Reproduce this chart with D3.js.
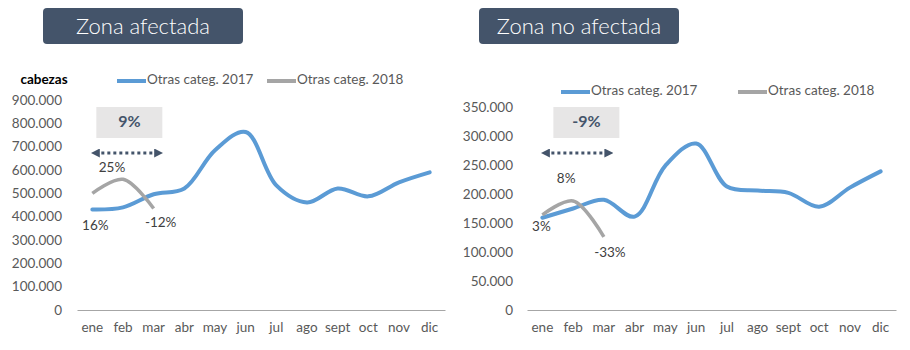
<!DOCTYPE html>
<html>
<head>
<meta charset="utf-8">
<script src="https://cdn.jsdelivr.net/npm/d3@7"></script>
<style>
body { margin: 0; background: #fff; }
text { font-family: Lato, "Open Sans", sans-serif; }
</style>
</head>
<body>
<script>
const w = 910
const h = 350

const months = ['ene', 'feb', 'mar', 'abr', 'may', 'jun', 'jul', 'ago', 'sept', 'oct', 'nov', 'dic']
const seriesNames = ['Otras categ. 2017', 'Otras categ. 2018']

// Zona afectada
const afect2017 = [431000, 440000, 496000, 521000, 685000, 763000, 534000, 461000, 521000, 487000, 547000, 590000]
const afect2018 = [500000, 560000, 435000]
const afectPct = ['16%', '25%', '-12%']
const afectTicks = [0, 100000, 200000, 300000, 400000, 500000, 600000, 700000, 800000, 900000]
const afectTotal = '9%'

// Zona no afectada
const noAfect2017 = [159000, 175000, 190000, 161000, 249000, 287000, 213000, 206000, 202000, 178000, 211000, 239000]
const noAfect2018 = [164000, 188000, 126000]
const noAfectPct = ['3%', '8%', '-33%']
const noAfectTicks = [0, 50000, 100000, 150000, 200000, 250000, 300000, 350000]
const noAfectTotal = '-9%'

const blue = '#5B9BD5'
const grey = '#A5A5A5'
const slate = '#44546A'
const txt = '#595959'

const fmt = d3.formatLocale({ decimal: ',', thousands: '.', grouping: [3], currency: ['', ''] }).format(',')

const svg = d3.select('body')
	.append('svg')
	.attr('width', w)
	.attr('height', h)

const defs = svg.append('defs')
defs.append('marker')
	.attr('id', 'head')
	.attr('viewBox', '0 0 10 10')
	.attr('refX', 5)
	.attr('refY', 5)
	.attr('markerWidth', 3)
	.attr('markerHeight', 3)
	.attr('orient', 'auto-start-reverse')
	.append('path')
	.attr('d', 'M0,0 L10,5 L0,10 Z')
	.attr('fill', slate)

function drawChart(opt) {
	const g = svg.append('g')

	// title box
	g.append('rect')
		.attr('x', opt.titleX)
		.attr('y', 8)
		.attr('width', 200)
		.attr('height', 36)
		.attr('rx', 4)
		.attr('fill', slate)
	g.append('text')
		.attr('x', opt.titleX + 100)
		.attr('y', 34)
		.attr('text-anchor', 'middle')
		.attr('font-size', '22px')
		.attr('font-weight', 300)
		.attr('fill', '#fff')
		.text(opt.title)

	const xScale = d3.scaleBand()
		.domain(months)
		.range([opt.x0, opt.x1])
	const xc = d => xScale(d) + xScale.bandwidth() / 2

	const yScale = d3.scaleLinear()
		.domain([0, d3.max(opt.ticks)])
		.range([310, opt.yTop])

	const yAxis = d3.axisLeft(yScale)
		.tickValues(opt.ticks)
		.tickFormat(d => d === 0 ? '0' : fmt(d))
		.tickSize(0)
		.tickPadding(0)

	const ya = g.append('g')
		.attr('transform', `translate(${opt.yLabelX},0)`)
		.call(yAxis)
	ya.select('.domain').remove()
	ya.selectAll('text')
		.attr('font-size', '13.5px')
		.attr('fill', txt)
		.attr('font-family', 'Lato, sans-serif')

	const xAxis = d3.axisBottom(xScale)
		.tickSize(0)
		.tickSizeOuter(0)
		.tickPadding(12)

	const xa = g.append('g')
		.attr('transform', 'translate(0,310)')
		.call(xAxis)
	xa.select('.domain').attr('stroke', '#A6A6A6')
	xa.selectAll('text')
		.attr('font-size', '13.5px')
		.attr('fill', txt)
		.attr('font-family', 'Lato, sans-serif')

	const line = d3.line()
		.x((d, i) => xc(months[i]))
		.y(d => yScale(d))
		.curve(d3.curveCatmullRom.alpha(0.5))

	g.append('path')
		.attr('d', line(opt.s2017))
		.attr('stroke', blue)
		.attr('stroke-width', 4)
		.attr('fill', 'none')
		.attr('stroke-linecap', 'round')

	g.append('path')
		.attr('d', line(opt.s2018))
		.attr('stroke', grey)
		.attr('stroke-width', 3.5)
		.attr('fill', 'none')

	// percentage labels next to 2018 points
	g.selectAll('text.pct')
		.data(opt.pct)
		.enter()
		.append('text')
		.attr('class', 'pct')
		.attr('x', (d, i) => xc(months[i]) + opt.pctOff[i][0])
		.attr('y', (d, i) => yScale(opt.s2018[i]) + opt.pctOff[i][1])
		.attr('text-anchor', 'middle')
		.attr('dominant-baseline', 'middle')
		.attr('font-size', '13.5px')
		.attr('fill', '#404040')
		.text(d => d)

	// total box and arrow over ene-mar
	const bx = xc('ene') + opt.boxDx
	g.append('rect')
		.attr('x', bx)
		.attr('y', 107)
		.attr('width', 66)
		.attr('height', 31)
		.attr('fill', '#E7E6E6')
	g.append('text')
		.attr('x', bx + 33)
		.attr('y', 123)
		.attr('text-anchor', 'middle')
		.attr('dominant-baseline', 'middle')
		.attr('font-size', '16px')
		.attr('font-weight', 'bold')
		.attr('fill', slate)
		.text(opt.total)

	g.append('line')
		.attr('x1', xc('ene') + 3)
		.attr('x2', xc('mar') + 5)
		.attr('y1', 153)
		.attr('y2', 153)
		.attr('stroke', slate)
		.attr('stroke-width', 3)
		.attr('stroke-dasharray', '3,3')
		.attr('marker-start', 'url(#head)')
		.attr('marker-end', 'url(#head)')

	// legend
	const lg = g.append('g')
		.attr('transform', `translate(${opt.legX},${opt.legY})`)
	const items = [[seriesNames[0], blue, 0], [seriesNames[1], grey, opt.legGap]]
	items.forEach(it => {
		lg.append('line')
			.attr('x1', it[2])
			.attr('x2', it[2] + 29)
			.attr('y1', 0)
			.attr('y2', 0)
			.attr('stroke', it[1])
			.attr('stroke-width', 4)
		lg.append('text')
			.attr('x', it[2] + 30)
			.attr('y', 0)
			.attr('dominant-baseline', 'middle')
			.attr('font-size', '13.5px')
			.attr('fill', txt)
			.text(it[0])
	})
}

svg.append('text')
	.attr('x', 44)
	.attr('y', 81)
	.attr('text-anchor', 'middle')
	.attr('dominant-baseline', 'middle')
	.attr('font-size', '13.5px')
	.attr('font-weight', 'bold')
	.attr('fill', '#000')
	.text('cabezas')

drawChart({
	title: 'Zona afectada', titleX: 43,
	x0: 77, x1: 445, yTop: 100, yLabelX: 62,
	s2017: afect2017, s2018: afect2018, ticks: afectTicks,
	pct: afectPct, pctOff: [[3, 33], [-11, -11], [7, 15]],
	total: afectTotal, boxDx: 4,
	legX: 117, legY: 81, legGap: 150
})

drawChart({
	title: 'Zona no afectada', titleX: 479,
	x0: 527, x1: 896, yTop: 107, yLabelX: 513,
	s2017: noAfect2017, s2018: noAfect2018, ticks: noAfectTicks,
	pct: noAfectPct, pctOff: [[-1, 13], [-7, -21], [6, 17]],
	total: noAfectTotal, boxDx: 11,
	legX: 561, legY: 92, legGap: 177
})
</script>
</body>
</html>
